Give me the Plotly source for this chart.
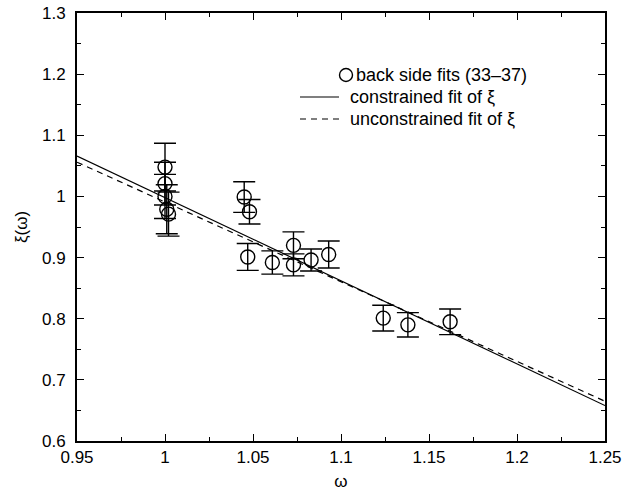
import plotly.graph_objects as go

# Back-side fit results (33-37): omega, xi and one-sigma errors
omega = [1.000, 1.000, 1.000, 1.001, 1.002, 1.045, 1.048, 1.047, 1.061, 1.073, 1.073, 1.083, 1.093, 1.124, 1.138, 1.162]
xi = [1.048, 1.021, 1.000, 0.979, 0.971, 0.999, 0.975, 0.901, 0.892, 0.920, 0.888, 0.896, 0.905, 0.801, 0.790, 0.795]
xi_err = [0.039, 0.035, 0.036, 0.040, 0.036, 0.025, 0.020, 0.022, 0.019, 0.022, 0.018, 0.018, 0.022, 0.021, 0.020, 0.021]

# Linear fits of xi(omega), evaluated at the ends of the omega range
fit_omega = [0.95, 1.25]
xi_constrained = [1.066, 0.658]
xi_unconstrained = [1.056, 0.665]

x_ticks = [0.95, 1.0, 1.05, 1.1, 1.15, 1.2, 1.25]
x_ticktext = ["0.95", "1", "1.05", "1.1", "1.15", "1.2", "1.25"]
y_ticks = [0.6, 0.7, 0.8, 0.9, 1.0, 1.1, 1.2, 1.3]
y_ticktext = ["0.6", "0.7", "0.8", "0.9", "1", "1.1", "1.2", "1.3"]

legend_labels = ["back side fits (33\u201337)", "constrained fit of \u03be", "unconstrained fit of \u03be"]

FONT = "Liberation Sans, Arial, Helvetica, sans-serif"
W, H = 622, 491
ML, MR, MT, MB = 77, 17, 13, 50
PW, PH = W - ML - MR, H - MT - MB


def px(x):
    return (x - ML) / PW


def py(y):
    return (H - MB - y) / PH


fig = go.Figure()

fig.add_trace(go.Scatter(
    x=fit_omega, y=xi_constrained, mode="lines",
    line=dict(color="black", width=1.2), showlegend=False, hoverinfo="skip",
))
fig.add_trace(go.Scatter(
    x=fit_omega, y=xi_unconstrained, mode="lines",
    line=dict(color="black", width=1.2, dash="6px,5px"), showlegend=False, hoverinfo="skip",
))
fig.add_trace(go.Scatter(
    x=omega, y=xi, mode="markers",
    marker=dict(symbol="circle-open", size=14, color="black", line=dict(width=1.4)),
    error_y=dict(type="data", array=xi_err, visible=True, color="black", thickness=1.4, width=11),
    showlegend=False,
))

axis_common = dict(
    showgrid=False, zeroline=False, showline=True, linecolor="black", linewidth=1.8,
    mirror="ticks", ticks="inside", ticklen=7, tickwidth=1.2, tickcolor="black",
    tickfont=dict(family=FONT, size=17, color="black"), automargin=False,
)

fig.update_xaxes(
    range=[0.95, 1.25], tickvals=x_ticks, ticktext=x_ticktext,
    minor=dict(ticks="inside", ticklen=4, dtick=0.025, tick0=0.95, tickcolor="black", tickwidth=1),
    title=dict(text="\u03c9", font=dict(family=FONT, size=17, color="black"), standoff=16),
    **axis_common,
)
fig.update_yaxes(
    range=[0.6, 1.3], tickvals=y_ticks, ticktext=y_ticktext,
    minor=dict(ticks="inside", ticklen=4, dtick=0.05, tick0=0.6, tickcolor="black", tickwidth=1),
    title=dict(text="\u03be(\u03c9)", font=dict(family=FONT, size=17, color="black"), standoff=10),
    ticklabelstandoff=6,
    **axis_common,
)

# Key in the upper right of the plot area
rows_y = [75, 97, 119]
shapes = [
    dict(type="circle", xref="paper", yref="paper", xsizemode="pixel", ysizemode="pixel",
         xanchor=px(346), yanchor=py(rows_y[0]), x0=-6.5, x1=6.5, y0=-6.5, y1=6.5,
         line=dict(color="black", width=1.4)),
    dict(type="line", xref="paper", yref="paper", x0=px(300), x1=px(339),
         y0=py(rows_y[1]), y1=py(rows_y[1]), line=dict(color="black", width=1.2)),
    dict(type="line", xref="paper", yref="paper", x0=px(300), x1=px(339),
         y0=py(rows_y[2]), y1=py(rows_y[2]), line=dict(color="black", width=1.2, dash="6px,5px")),
]
text_x = [354, 348, 348]
annotations = [
    dict(text=lab, xref="paper", yref="paper", x=px(tx), y=py(ty), xanchor="left", yanchor="middle",
         showarrow=False, font=dict(family=FONT, size=18, color="black"))
    for lab, tx, ty in zip(legend_labels, text_x, rows_y)
]

fig.update_layout(
    width=W, height=H,
    margin=dict(l=ML, r=MR, t=MT, b=MB),
    paper_bgcolor="white", plot_bgcolor="white",
    shapes=shapes, annotations=annotations,
    showlegend=False,
)

fig.write_html("out.html")
